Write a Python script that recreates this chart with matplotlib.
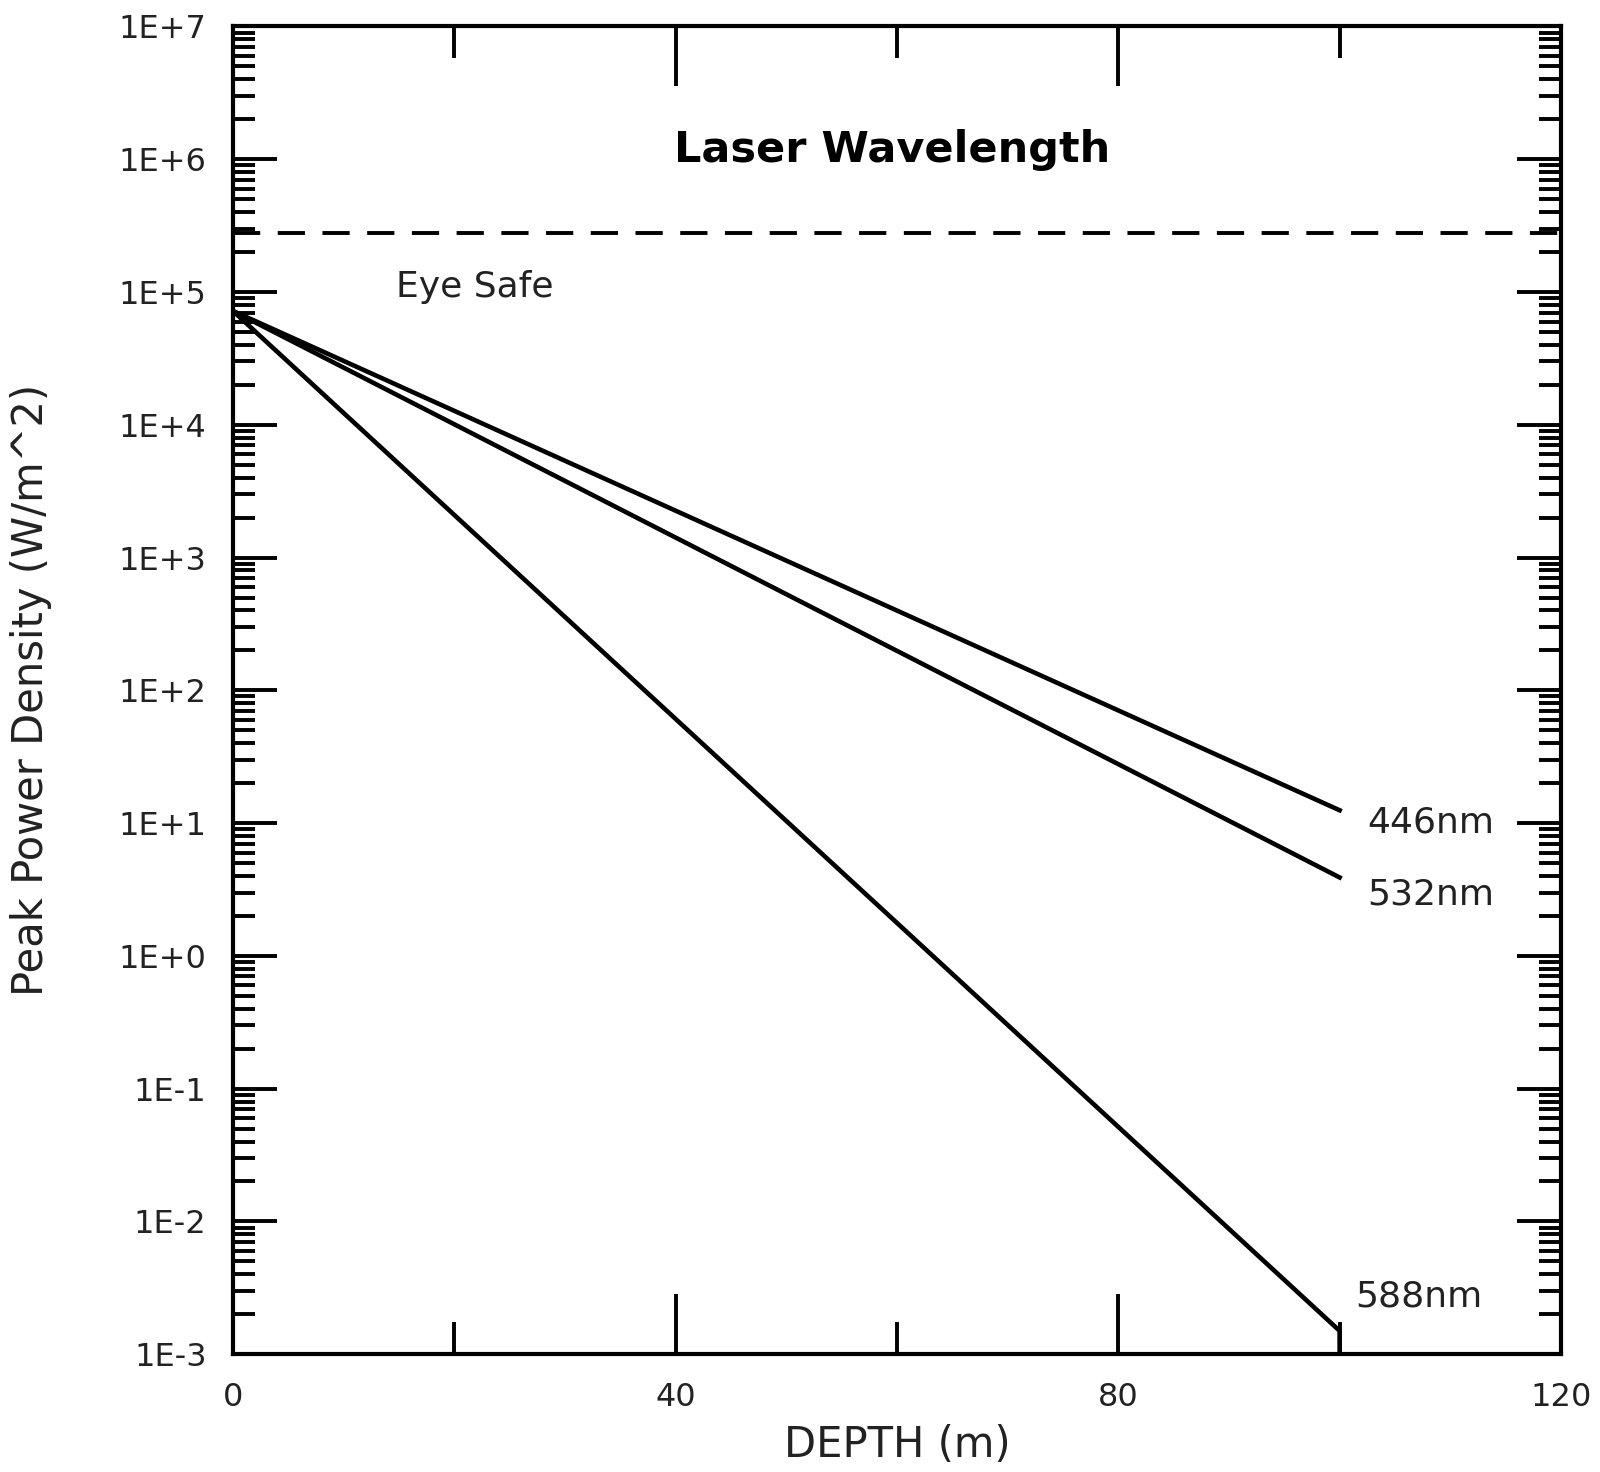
import math
import matplotlib
matplotlib.use('Agg')
import matplotlib.pyplot as plt
from matplotlib.ticker import FixedLocator, LogLocator, FuncFormatter, NullFormatter

# datos
depth = [0, 100]
p446 = [7.2e4, 12.5]
p532 = [7.2e4, 3.9]
depth_588 = [0, 100, 100]
p588 = [7.2e4, 1.5e-3, 1.0e-3]
eye_safe = 2.8e5

x_major = [0, 40, 80, 120]
x_minor = [20, 60, 100]

plt.rcParams['font.family'] = ['DejaVu Sans']

fig = plt.figure(figsize=(16, 14.72), dpi=100)
ax = fig.add_axes([0.1456, 0.080, 0.83, 0.902])

ax.plot(depth, p446, color='black', lw=3.3)
ax.plot(depth, p532, color='black', lw=3.3)
ax.plot(depth_588, p588, color='black', lw=3.3)
ax.axhline(eye_safe, color='black', lw=2.8, dashes=(7, 4.5))

ax.set_yscale('log')
ax.set_xlim(0, 120)
ax.set_ylim(1e-3, 1e7)

ax.xaxis.set_major_locator(FixedLocator(x_major))
ax.xaxis.set_minor_locator(FixedLocator(x_minor))
ax.yaxis.set_major_locator(LogLocator(base=10, numticks=20))
ax.yaxis.set_minor_locator(LogLocator(base=10, subs=range(2, 10), numticks=20))
ax.yaxis.set_minor_formatter(NullFormatter())

def fmt(v, pos):
    e = int(round(math.log10(v)))
    return '1E+%d' % e if e >= 0 else '1E-%d' % (-e)

ax.yaxis.set_major_formatter(FuncFormatter(fmt))

ax.tick_params(axis='x', which='major', direction='in', length=43, width=2.8, top=True, labelsize=23, pad=20, color='black', labelcolor='#222222')
ax.tick_params(axis='x', which='minor', direction='in', length=23, width=2.8, top=True)
ax.tick_params(axis='y', which='major', direction='in', length=32, width=2.8, right=True, labelsize=23, pad=19, labelcolor='#222222')
ax.tick_params(axis='y', which='minor', direction='in', length=16, width=2.8, right=True)

for s in ax.spines.values():
    s.set_linewidth(3)

ax.set_xlabel('DEPTH (m)', fontsize=30, color='#222222', labelpad=8)
ax.set_ylabel('Peak Power Density (W/m^2)', fontsize=30, color='#222222', labelpad=48)

ax.text(59.6, 1.17e6, 'Laser Wavelength', fontsize=31, fontweight='bold', ha='center', va='center')
ax.text(14.7, 1.1e5, 'Eye Safe', fontsize=26, ha='left', va='center', color='#222222')
ax.text(102.5, 10.1, '446nm', fontsize=26, ha='left', va='center', color='#222222')
ax.text(102.5, 2.9, '532nm', fontsize=26, ha='left', va='center', color='#222222')
ax.text(101.4, 2.7e-3, '588nm', fontsize=26, ha='left', va='center', color='#222222')

fig.savefig('out.png', dpi=100)
